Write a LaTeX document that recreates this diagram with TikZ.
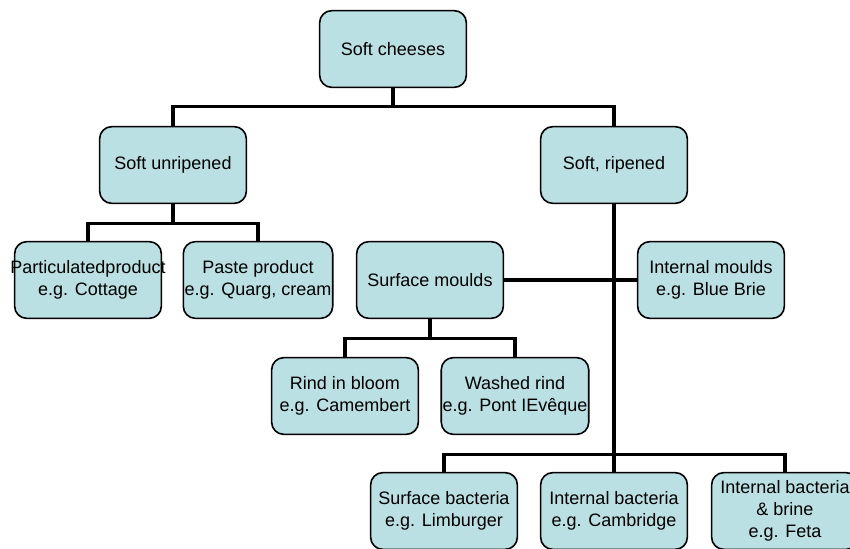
\documentclass[tikz,border=0pt]{standalone}
\usepackage{fontspec}
\setmainfont{Liberation Sans}
\usepackage{xcolor}
\usepackage{tikz}
\usetikzlibrary{positioning}

\definecolor{boxfill}{RGB}{187,224,227}

\begin{document}
\begin{tikzpicture}[
  x=0.75pt, y=-0.75pt,
  box/.style={rectangle, rounded corners=9pt, draw=black, line width=1.2pt,
              fill=boxfill, text=black, minimum width=110pt, minimum height=57.5pt,
              align=center, inner sep=1pt, font=\fontsize{13.5}{16.5}\selectfont},
  link/.style={line width=2.3pt},
]
  \useasboundingbox (0,0) rectangle (850,549);

  \node[box] (soft)   at (393,49)  {Soft cheeses};
  \node[box] (unrip)  at (173,165) {Soft unripened};
  \node[box] (ripe)   at (614,165) {Soft, ripened};
  \node[box] (partic) at (88,280)  {\makebox[0pt]{Particulatedproduct}\\e.g. Cottage};
  \node[box] (paste)  at (258,280) {Paste product\\e.g. Quarg, cream};
  \node[box] (surf)   at (430,280) {Surface moulds};
  \node[box] (intm)   at (711,280) {Internal moulds\\e.g. Blue Brie};
  \node[box] (bloom)  at (345,396) {Rind in bloom\\e.g. Camembert};
  \node[box] (washed) at (515,396) {Washed rind\\e.g. Pont IEvêque};
  \node[box] (sbac)   at (444,511) {Surface bacteria\\e.g. Limburger};
  \node[box] (ibac)   at (614,511) {Internal bacteria\\e.g. Cambridge};
  \node[box] (brine)  at (785,511) {Internal bacteria\\\& brine\\e.g. Feta};

  \draw[link] (soft.south)  -- ++(0,18) -| (unrip.north);
  \draw[link] (soft.south)  -- ++(0,18) -| (ripe.north);
  \draw[link] (unrip.south) -- ++(0,19) -| (partic.north);
  \draw[link] (unrip.south) -- ++(0,19) -| (paste.north);
  \draw[link] (surf.east)   -- (intm.west);
  \draw[link] (surf.south)  -- ++(0,19) -| (bloom.north);
  \draw[link] (surf.south)  -- ++(0,19) -| (washed.north);
  \draw[link] (ripe.south)  -- ++(0,250) -| (sbac.north);
  \draw[link] (ripe.south)  -- ++(0,250) -| (ibac.north);
  \draw[link] (ripe.south)  -- ++(0,250) -| (brine.north);
\end{tikzpicture}
\end{document}
